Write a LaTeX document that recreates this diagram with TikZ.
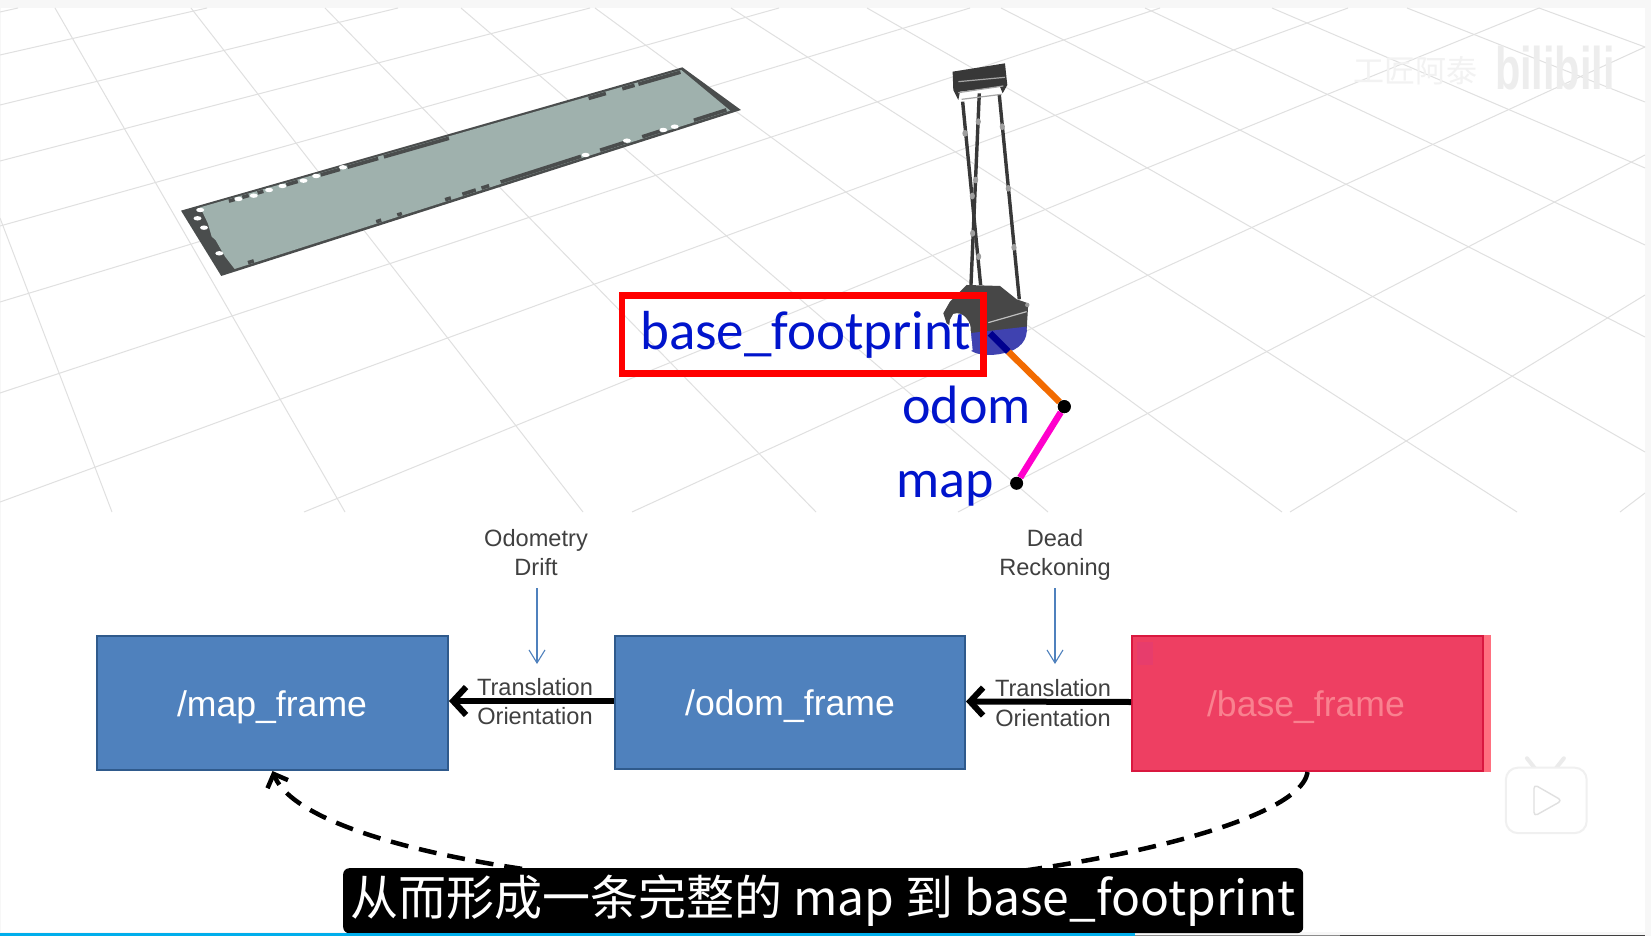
\documentclass[tikz,border=0pt]{standalone}
\usepackage{fontspec}
\setmainfont{Liberation Sans}
\newfontfamily\carl{Carlito}
\newfontfamily\cjkf{Noto Sans CJK SC}
\usetikzlibrary{arrows.meta}
\definecolor{gridc}{HTML}{E0E0E0}
\definecolor{plated}{HTML}{4A4D4D}
\definecolor{platef}{HTML}{9FB1AD}
\definecolor{boxb}{HTML}{4F81BD}
\definecolor{boxe}{HTML}{2F5A8C}
\definecolor{boxr}{HTML}{EE3F62}
\definecolor{boxre}{HTML}{D9183F}
\definecolor{txtr}{HTML}{F9818F}
\definecolor{lblue}{HTML}{0014CC}
\definecolor{small}{HTML}{404040}
\definecolor{linko}{HTML}{F26B00}
\definecolor{linkm}{HTML}{FF00CC}
\definecolor{linkb}{HTML}{00008F}
\definecolor{baseb}{HTML}{3F42B0}
\definecolor{barc}{HTML}{00AEEC}
\definecolor{strip}{HTML}{FF7080}
\tikzset{
  gridline/.style={draw=gridc,line width=1pt},
  tooth/.style={draw=plated,line width=3.6pt},
  pole/.style={draw=black!78,line width=3.4pt},
  joint/.style={fill=black!38,draw=none},
  frame/.style={rectangle,line width=2pt,text=white,inner sep=0pt,font=\fontsize{35.6}{36}\selectfont},
  bluelabel/.style={anchor=base west,inner sep=0pt,text=lblue,font=\fontsize{54}{54}\selectfont\carl},
  smalltext/.style={anchor=base,inner sep=0pt,text=small,font=\fontsize{23.6}{24}\selectfont},
  thick arrow/.style={line width=6pt,-{Straight Barb[length=13pt,width=28pt,line width=6pt]}},
  thin arrow/.style={draw=boxb,line width=1.1pt,-{Straight Barb[length=13pt,width=16pt,line width=1.1pt]}},
  link/.style={line width=6.5pt},
  dotnode/.style={circle,fill=black,inner sep=0pt,minimum size=13pt},
}
\begin{document}
\begin{tikzpicture}[x=1pt,y=-1pt]
\useasboundingbox (0,0) rectangle (1651,936);
\fill[white!97!black] (0,0) rectangle (1651,936);
\fill[white] (1,8) rectangle (1645,932);
% grid
\begin{scope}
\clip (0,8) rectangle (1645,512);
\foreach \a/\b/\c/\d in {0/218/112/512,55/8/345/512,191/8/583/512,325/8/816/512,461/8/1048/512,595/8/1282/512,731/8/1517/512,867/8/1645/452,1001/8/1645/337,1145/8/1645/245,1272/8/1645/168,1407/8/1645/102,1539/8/1645/47,
0/12/18/8,0/55/207/8,0/105/398/8,0/161/590/8,0/226/779/8,0/302/970/8,0/393/1160/8,0/502/1348/8,304/512/1539/8,632/512/1645/47,958/512/1645/155,1290/512/1645/295,1620/512/1645/493}
  \draw[gridline] (\a,\b) -- (\c,\d);
\end{scope}
% watermark
\node[inner sep=0pt,anchor=base west,text=black!5,font=\fontsize{31}{31}\selectfont\cjkf] (wmtext) at (1353,83) {工匠阿泰};
\node[inner sep=0pt,anchor=base west,text=black!7,xscale=0.69,font=\fontsize{60}{60}\selectfont\bfseries] (wmlogo) at (1495,90) {bilibili};
% plate, in zoom coordinates
\begin{scope}[shift={(160,50)},x=0.3827pt,y=-0.3333pt]
\fill[plated] (55,482) -- (1365,52) -- (1518,180) -- (160,678) -- cycle;
\fill[platef] (105,472) -- (1362,60) -- (1490,182) -- (195,657) -- (170,620) -- (145,570) -- (135,560) -- (125,520) -- cycle;
\foreach \a/\b in {585/755,490/570,420/470,1120/1165,1208/1240,1250/1360,330/360,255/270,215/232,180/195}
  \draw[tooth] (\a,{478-(\a-105)*0.3278}) -- (\b,{478-(\b-105)*0.3278});
\foreach \a/\b in {890/1100,1150/1220,1260/1310,1395/1480,790/825,840/860,745/760,620/632,565/578,230/245}
  \draw[tooth] (\a,{651-(\a-195)*0.3668}) -- (\b,{651-(\b-195)*0.3668});
\foreach \p/\q in {105/480,205/447,245/437,285/420,320/408,375/392,408/378,478/352,98/505,115/533,155/610,1112/315,1220/272,1315/240,1345/230}
  \fill[white] (\p,\q) ellipse (4pt and 2.2pt);
\end{scope}
% robot, in zoom coordinates
\begin{scope}[shift={(600,40)},x=0.3333pt,y=-0.3333pt]
\foreach \a/\b/\c/\d in {1088/185/1142/735,1138/160/1113/735,1198/165/1258/778}
  \draw[pole] (\a,\b) -- (\c,\d);
\foreach \p/\q in {1207/260,1225/445,1242/622,1135/245,1127/420,1118/580,1095/280,1117/468,1136/650}
  \fill[joint] (\p,\q) ellipse (2.6pt and 3.4pt);
\fill[black!78] (1058,95) -- (1215,70) -- (1222,135) -- (1208,160) -- (1200,140) -- (1080,155) -- (1075,180) -- (1060,150) -- cycle;
\draw[black!35,line width=1.2pt] (1075,125) -- (1215,112);
\draw[black!35,line width=1.2pt] (1075,158) -- (1210,138);
\draw[black!35,line width=1.2pt] (1085,178) -- (1205,163);
\fill[black!72] (1030,820) -- (1050,785) -- (1100,735) -- (1200,738) -- (1250,778) -- (1285,790) -- (1280,870) -- (1105,890) -- (1040,850) -- cycle;
\fill[baseb] (1105,880) -- (1280,860) .. controls (1285,900) and (1260,930) .. (1210,940) .. controls (1170,950) and (1120,945) .. (1105,925) -- cycle;
\draw[black!25,line width=1.2pt] (1165,848) -- (1280,815);
\fill[black!40] (1282,795) circle (2.2pt);
\fill[white] (1060,822) .. controls (1090,810) and (1115,850) .. (1112,870) -- (1118,930) -- (1090,945) -- (1035,950) -- (1050,840) -- cycle;
\coordinate (basept) at (1170,880);
\coordinate (bluend) at (1225,935);
\node[dotnode] (odomdot) at (1393,1100) {};
\node[dotnode] (mapdot) at (1250,1330) {};
\draw[link,draw=linko] (bluend) -- (odomdot);
\draw[link,draw=linkb] (basept) -- (bluend);
\draw[link,draw=linkm] (odomdot) -- (mapdot);
\node[dotnode] (odomdot2) at (odomdot) {};
\end{scope}
% labels
\node[rectangle,draw=red,line width=6.5pt,minimum width=361.5pt,minimum height=78pt,inner sep=0pt] (redbox) at (802.75,334.5) {};
\node[bluelabel,font=\fontsize{55}{55}\selectfont\carl] (lbase) at (640,349) {base\_footprint};
\node[bluelabel] (lodom) at (902,423) {odom};
\node[bluelabel] (lmap) at (896,497) {map};
% lower diagram
\node[frame,draw=boxe,fill=boxb,minimum width=351pt,minimum height=134pt] (mapf) at (272.5,703) {};
\node[frame,draw=boxe,fill=boxb,minimum width=350pt,minimum height=133pt] (odomf) at (790,702) {};
\fill[strip] (1484,635) rectangle (1491,772);
\node[frame,draw=boxre,fill=boxr,minimum width=351pt,minimum height=135pt] (basef) at (1307.5,703.5) {};
\fill[magenta!30!boxr] (1137,642) rectangle (1153,665);
\node[anchor=base,inner sep=0pt,text=white,font=\fontsize{35.6}{36}\selectfont] (tmap) at (272,716) {/map\_frame};
\node[anchor=base,inner sep=0pt,text=white,font=\fontsize{35.6}{36}\selectfont] (todom) at (790,715) {/odom\_frame};
\node[anchor=base,inner sep=0pt,text=txtr,font=\fontsize{35.6}{36}\selectfont] (tbase) at (1306,716) {/base\_frame};
\node[smalltext] (o1) at (536,546) {Odometry};
\node[smalltext] (o2) at (536,575) {Drift};
\node[smalltext] (d1) at (1055,546) {Dead};
\node[smalltext] (d2) at (1055,575) {Reckoning};
\node[smalltext] (t1) at (535,695) {Translation};
\node[smalltext] (r1) at (535,724) {Orientation};
\node[smalltext] (t2) at (1053,696) {Translation};
\node[smalltext] (r2) at (1053,726) {Orientation};
\coordinate (drifttop) at (537,588);
\coordinate (driftend) at (537,664);
\coordinate (deadtop) at (1055,588);
\coordinate (deadend) at (1055,664);
\draw[thin arrow] (drifttop) -- (driftend);
\draw[thin arrow] (deadtop) -- (deadend);
\draw[thick arrow] ([yshift=1pt]odomf.west) -- ([yshift=2pt]mapf.east);
\draw[thick arrow] ([yshift=1.5pt]basef.west) -- ([yshift=0.5pt]odomf.east);
\coordinate (dashmid) at (790,888);
\draw[line width=4.5pt,dash pattern=on 18pt off 11pt,-{Straight Barb[length=11pt,width=22pt,line width=4.5pt]}]
  (basef.south) .. controls (1300,830) and (1015,888) .. (dashmid) .. controls (545,888) and (300,840) .. (mapf.south);
% caption
\node[rectangle,rounded corners=6pt,fill=black,anchor=north west,inner sep=0pt,minimum width=960pt,minimum height=65pt] (caption) at (343,868) {};
\node[anchor=base,inner sep=0pt,text=white,font=\fontsize{48}{48}\selectfont\cjkf] (captext) at (823,915) {从而形成一条完整的 map 到 base\_footprint};
% player icon
\begin{scope}[shift={(1100,620)},x=0.3514pt,y=-0.3356pt]
\draw[black!8,line width=4pt,line cap=round] (1215,412) -- (1240,445);
\draw[black!8,line width=4pt,line cap=round] (1320,412) -- (1295,445);
\draw[black!6,fill=white,line width=2pt,rounded corners=12pt] (1155,440) rectangle (1385,635);
\draw[black!12,fill=white,line width=1.4pt,line join=round,rounded corners=4pt] (1235,490) -- (1315,538) -- (1235,585) -- cycle;
\end{scope}
% progress bar
\fill[barc] (0,933) rectangle (1135,936);
\fill[black!45] (1135,934.5) rectangle (1340,936);
\fill[black!75] (1340,935) rectangle (1645,936);
\end{tikzpicture}
\end{document}
